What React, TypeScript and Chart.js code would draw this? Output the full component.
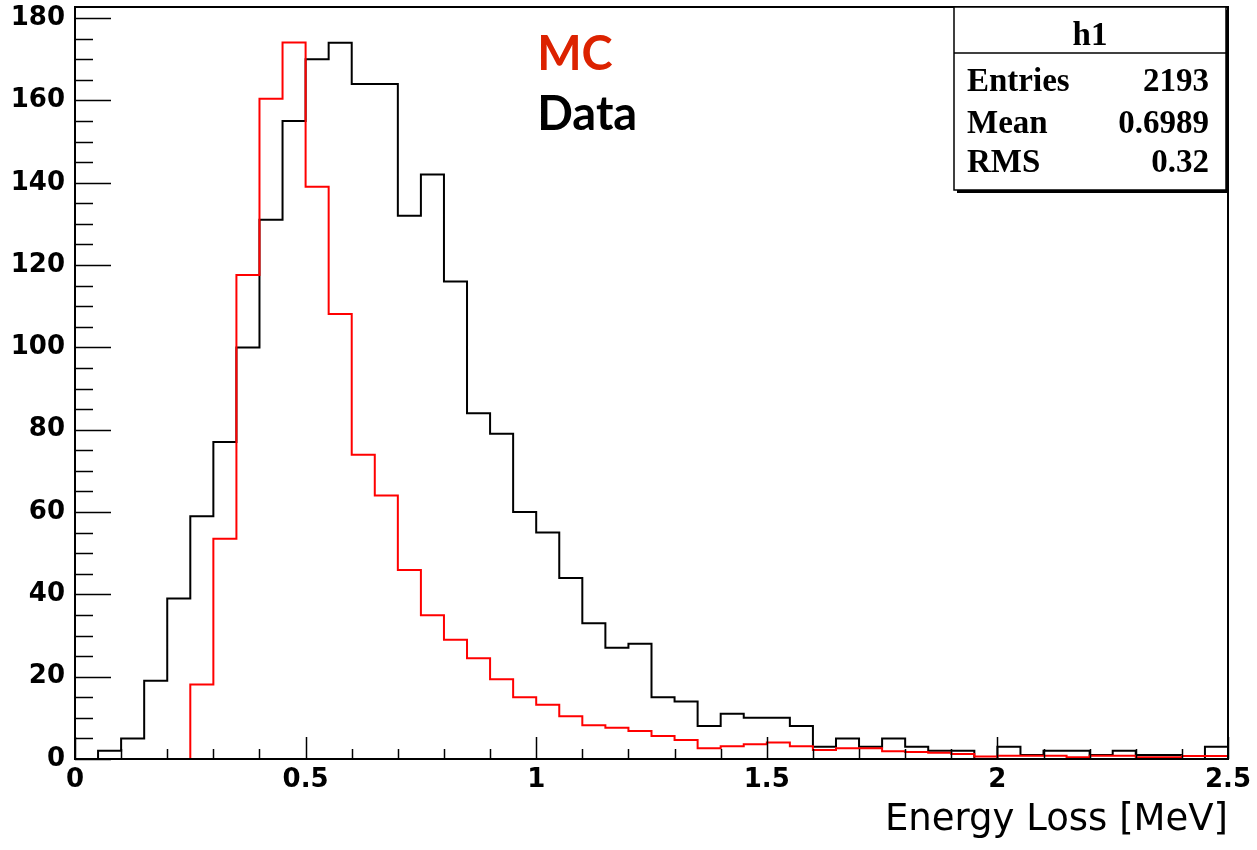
import React, { useEffect, useRef } from 'react';
import { Chart, registerables } from 'chart.js';

Chart.register(...registerables);

// ---- histogram binning ----
const BIN_START = 0;
const BIN_WIDTH = 0.05;
const X_MIN = 0;
const X_MAX = 2.5;
const Y_MIN = 0;
const Y_MAX = 182.7;

// ---- series values (one value per 0.05 MeV bin) ----
const DATA_COUNTS = [
  0, 2, 5, 19, 39, 59, 77, 100, 131, 155,
  170, 174, 164, 164, 132, 142, 116, 84, 79, 60,
  55, 44, 33, 27, 28, 15, 14, 8, 11, 10,
  10, 8, 3, 5, 3, 5, 3, 2, 2, 0,
  3, 1, 2, 2, 1, 2, 1, 1, 0, 3,
];
const MC_COUNTS = [
  0, 0, 0, 0, 0, 18.1, 53.5, 117.6, 160.4, 174.1,
  139.0, 108.1, 73.9, 64.0, 45.9, 34.9, 29.0, 24.5, 19.4, 15.0,
  13.2, 10.4, 8.2, 7.6, 6.8, 5.6, 4.6, 2.6, 3.1, 3.6,
  4.0, 3.1, 2.2, 2.6, 2.6, 1.9, 1.7, 1.5, 1.2, 0.6,
  0.8, 0.8, 0.8, 0.4, 0.8, 0.8, 0.4, 0.4, 0.7, 0.7,
];

// ---- ticks ----
const X_TICK_VALUES = [0, 0.5, 1, 1.5, 2, 2.5];
const X_TICK_LABELS = ['0', '0.5', '1', '1.5', '2', '2.5'];
const X_MINOR_STEP = 0.1;
const Y_TICK_VALUES = [0, 20, 40, 60, 80, 100, 120, 140, 160, 180];
const Y_TICK_LABELS = ['0', '20', '40', '60', '80', '100', '120', '140', '160', '180'];
const Y_MINOR_STEP = 5;

// ---- texts ----
const X_TITLE = 'Energy Loss [MeV]';
const STAT_TITLE = 'h1';
const STAT_LABELS = ['Entries', 'Mean', 'RMS'];
const STAT_VALUES = ['2193', '0.6989', '0.32'];
const LEGEND_LABELS = ['MC', 'Data'];
const LEGEND_COLORS = ['#dc2200', '#000000'];
const LEGEND_X = 1.0;
const LEGEND_Y = [167.4, 152.9];

function toSteps(values: number[]) {
  const pts = values.map((v, i) => ({ x: BIN_START + i * BIN_WIDTH, y: v }));
  pts.push({ x: BIN_START + values.length * BIN_WIDTH, y: values[values.length - 1] });
  return pts;
}

const rootDecor = {
  id: 'rootDecor',
  afterDatasetsDraw(chart: any) {
    const { ctx, chartArea: a, scales } = chart;
    const xs = scales.x;
    const ys = scales.y;
    ctx.save();
    ctx.strokeStyle = '#000';
    ctx.lineWidth = 1.5;
    // y ticks (inward)
    for (let v = Y_MIN; v <= Y_MAX + 1e-9; v += Y_MINOR_STEP) {
      const major = Y_TICK_VALUES.some((t) => Math.abs(t - v) < 1e-6);
      const py = Math.round(ys.getPixelForValue(v)) + 0.5;
      ctx.beginPath();
      ctx.moveTo(a.left, py);
      ctx.lineTo(a.left + (major ? 36 : 18), py);
      ctx.stroke();
    }
    // x ticks (inward)
    for (let k = 0; k * X_MINOR_STEP <= X_MAX + 1e-9; k++) {
      const v = X_MIN + k * X_MINOR_STEP;
      const major = X_TICK_VALUES.some((t) => Math.abs(t - v) < 1e-6);
      const px = Math.round(xs.getPixelForValue(v)) + 0.5;
      ctx.beginPath();
      ctx.moveTo(px, a.bottom);
      ctx.lineTo(px, a.bottom - (major ? 22 : 10));
      ctx.stroke();
    }
    // frame
    ctx.lineWidth = 2;
    ctx.strokeRect(a.left, a.top, a.right - a.left, a.bottom - a.top);

    // legend texts
    ctx.font = 'bold 47px Lato';
    ctx.textAlign = 'left';
    ctx.textBaseline = 'alphabetic';
    LEGEND_LABELS.forEach((t, i) => {
      ctx.fillStyle = LEGEND_COLORS[i];
      ctx.fillText(t, xs.getPixelForValue(LEGEND_X) + 1, ys.getPixelForValue(LEGEND_Y[i]));
    });

    // stat box
    const bx1 = a.right - 274;
    const bx2 = a.right - 2;
    const by1 = a.top;
    const by2 = a.top + 183;
    ctx.fillStyle = '#000';
    ctx.fillRect(bx1 + 3, by1 + 3, bx2 - bx1, by2 - by1);
    ctx.fillStyle = '#fff';
    ctx.fillRect(bx1, by1, bx2 - bx1, by2 - by1);
    ctx.lineWidth = 1.5;
    ctx.strokeStyle = '#000';
    ctx.strokeRect(bx1, by1, bx2 - bx1, by2 - by1);
    ctx.beginPath();
    ctx.moveTo(bx1, by1 + 46);
    ctx.lineTo(bx2, by1 + 46);
    ctx.stroke();
    ctx.fillStyle = '#000';
    ctx.font = 'bold 33px "Liberation Serif"';
    ctx.textAlign = 'center';
    ctx.fillText(STAT_TITLE, (bx1 + bx2) / 2, by1 + 38);
    const rowBase = [84, 126, 165];
    STAT_LABELS.forEach((t, i) => {
      ctx.textAlign = 'left';
      ctx.fillText(t, bx1 + 13, by1 + rowBase[i]);
      ctx.textAlign = 'right';
      ctx.fillText(STAT_VALUES[i], bx2 - 17, by1 + rowBase[i]);
    });
    ctx.restore();
  },
};

export default function App() {
  const ref = useRef<HTMLCanvasElement | null>(null);
  useEffect(() => {
    if (!ref.current) return;
    const chart = new Chart(ref.current, {
      type: 'line',
      data: {
        datasets: [
          {
            label: 'MC',
            data: toSteps(MC_COUNTS),
            borderColor: '#ff0000',
            borderWidth: 2,
            stepped: 'before',
            pointRadius: 0,
            fill: false,
          },
          {
            label: 'Data',
            data: toSteps(DATA_COUNTS),
            borderColor: '#000000',
            borderWidth: 2,
            stepped: 'before',
            pointRadius: 0,
            fill: false,
          },
        ],
      },
      options: {
        responsive: false,
        maintainAspectRatio: false,
        animation: false,
        events: [],
        layout: { padding: { top: 7, right: 29, left: 0, bottom: 0 } },
        plugins: { legend: { display: false }, tooltip: { enabled: false } },
        scales: {
          x: {
            type: 'linear',
            min: X_MIN,
            max: X_MAX,
            afterFit: (s: any) => {
              s.height = 91;
              s.paddingLeft = 0;
              s.paddingRight = 0;
            },
            afterBuildTicks: (s: any) => {
              s.ticks = X_TICK_VALUES.map((v) => ({ value: v }));
            },
            grid: { display: false, drawTicks: false },
            border: { display: false },
            ticks: {
              autoSkip: false,
              maxRotation: 0,
              padding: 6,
              color: '#000',
              font: { family: 'DejaVu Sans', weight: 'bold', size: 26 },
              callback: (v: any) => {
                const i = X_TICK_VALUES.findIndex((t) => Math.abs(t - v) < 1e-6);
                return i >= 0 ? X_TICK_LABELS[i] : '';
              },
            },
            title: {
              display: true,
              text: X_TITLE,
              align: 'end',
              color: '#000',
              font: { family: 'DejaVu Sans', size: 37, lineHeight: 1 },
              padding: { top: 0, bottom: 11 },
            },
          },
          y: {
            type: 'linear',
            min: Y_MIN,
            max: Y_MAX,
            afterFit: (s: any) => {
              s.width = 75;
              s.paddingTop = 0;
              s.paddingBottom = 0;
            },
            afterBuildTicks: (s: any) => {
              s.ticks = Y_TICK_VALUES.map((v) => ({ value: v }));
            },
            grid: { display: false, drawTicks: false },
            border: { display: false },
            ticks: {
              autoSkip: false,
              padding: 10,
              color: '#000',
              font: { family: 'DejaVu Sans', weight: 'bold', size: 26 },
              callback: (v: any) => {
                const i = Y_TICK_VALUES.findIndex((t) => Math.abs(t - v) < 1e-6);
                return i >= 0 ? Y_TICK_LABELS[i] : '';
              },
            },
          },
        },
      },
      plugins: [rootDecor],
    } as any);
    return () => chart.destroy();
  }, []);

  return (
    <div style={{ position: 'absolute', left: 0, top: 0, width: 1257, height: 850, background: '#fff' }}>
      <canvas ref={ref} width={1257} height={850} style={{ display: 'block', width: 1257, height: 850 }} />
    </div>
  );
}
